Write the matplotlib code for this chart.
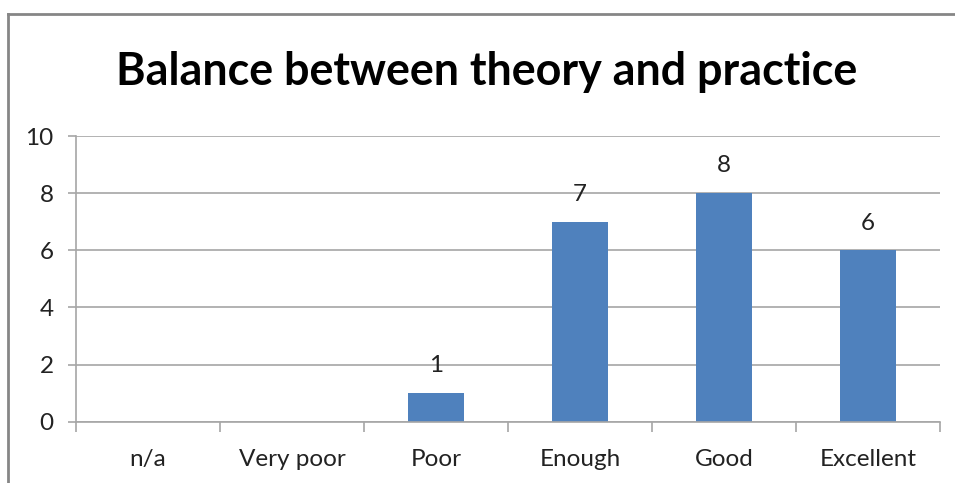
import matplotlib.pyplot as plt
import numpy as np
from matplotlib.lines import Line2D

# Survey answers
categories = ["n/a", "Very poor", "Poor", "Enough", "Good", "Excellent"]
counts = [0, 0, 1, 7, 8, 6]
y_ticks = [0, 2, 4, 6, 8, 10]

plt.rcParams['font.family'] = ['Lato', 'DejaVu Sans']

fig = plt.figure(figsize=(9.55, 4.83), dpi=100)
ax = fig.add_axes([0.0796, 0.1269, 0.9047, 0.5915])

grid_col = '#a6a6a6'
x = np.arange(len(categories))
ax.set_axisbelow(True)
ax.yaxis.grid(True, color=grid_col, linewidth=1.2)
ax.bar(x, counts, width=0.39, color='#4f81bd')

# value labels on the non-empty bars
for xi, v in zip(x, counts):
    if v > 0:
        ax.annotate(str(v), (xi, v), xytext=(0, 12), textcoords='offset points',
                    ha='center', va='bottom', fontsize=17.5, color='#222222')

ax.set_xlim(-0.5, len(categories) - 0.5)
ax.set_ylim(0, 10)
ax.set_yticks(y_ticks)
ax.set_xticks(x)
ax.set_xticklabels(categories)
ax.set_xticks(np.arange(len(categories) + 1) - 0.5, minor=True)

ax.tick_params(axis='x', which='major', length=0, pad=20, labelsize=17.5, labelcolor='#222222')
ax.tick_params(axis='x', which='minor', length=7, width=1.2, color=grid_col)
ax.tick_params(axis='y', length=6, width=1.2, color=grid_col, pad=10,
               labelsize=17.5, labelcolor='#222222')

for side in ['top', 'right']:
    ax.spines[side].set_visible(False)
for side in ['left', 'bottom']:
    ax.spines[side].set_color(grid_col)
    ax.spines[side].set_linewidth(1.2)

fig.text(0.51, 0.85, "Balance between theory and practice", ha='center', va='center',
         fontsize=32.3, fontweight='bold', color='black')

# chart frame (left and top edges)
fig.add_artist(Line2D([7.5 / 955, 7.5 / 955], [0, 1 - 14 / 483], color='#868686', linewidth=2))
fig.add_artist(Line2D([7.5 / 955, 1], [1 - 14 / 483, 1 - 14 / 483], color='#868686', linewidth=2))

fig.savefig('out.png', dpi=100)
